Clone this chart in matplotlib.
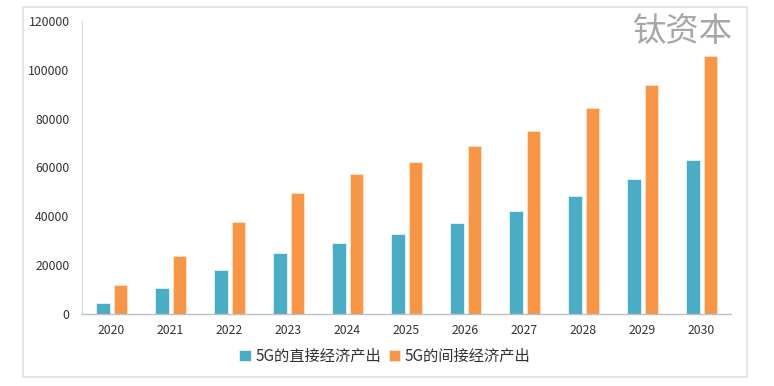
import matplotlib
matplotlib.use("Agg")
import matplotlib.pyplot as plt
import numpy as np
from matplotlib.patches import Rectangle

plt.rcParams['font.family'] = ['Noto Sans CJK SC', 'DejaVu Sans']

years = ['2020', '2021', '2022', '2023', '2024', '2025', '2026', '2027', '2028', '2029', '2030']
direct = [4700, 10500, 18200, 24800, 29000, 32700, 37100, 42000, 48400, 55100, 62900]
indirect = [11800, 23800, 37800, 49700, 57300, 62300, 68700, 75000, 84200, 93900, 105800]
labels = ['5G的直接经济产出', '5G的间接经济产出']

fig = plt.figure(figsize=(7.74, 3.86), dpi=100)
ax = fig.add_axes([82/774, 1-314/386, (731-82)/774, (314-21)/386])

x = np.arange(len(years))
w = 0.23
ax.bar(x - 0.14, direct, w, color='#4BACC6', edgecolor='#E6F3F7', linewidth=0.6, label=labels[0])
ax.bar(x + 0.15, indirect, w, color='#F79646', edgecolor='#FDE3CF', linewidth=0.6, label=labels[1])

ax.set_xlim(-0.5, len(years) - 0.5)
ax.set_ylim(0, 120000)
ax.set_yticks(np.arange(0, 120001, 20000))
ax.set_yticklabels([str(v) for v in range(0, 120001, 20000)])
ax.set_xticks(x)
ax.set_xticklabels(years)
ax.tick_params(axis='both', length=0, colors='#333333', labelsize=8.8)
ax.tick_params(axis='y', pad=9)
ax.tick_params(axis='x', pad=7)
for s in ['top', 'right']:
    ax.spines[s].set_visible(False)
ax.spines['left'].set_color('#D9D9D9')
ax.spines['bottom'].set_color('#BFBFBF')
ax.spines['bottom'].set_linewidth(1.0)

leg = fig.legend(loc='center', bbox_to_anchor=(385/774, 1-356/386), ncol=2, frameon=False,
                 fontsize=11, handlelength=0.75, handleheight=0.75, handletextpad=0.3,
                 columnspacing=0.5, labelcolor='#333333')

fig.text(733/774, 1-31/386, '钛资本', ha='right', va='center', fontsize=24, color='#A6A6A6')

border = Rectangle((23/774, 1-377/386), (747-23)/774, (377-7)/386, transform=fig.transFigure,
                   fill=False, edgecolor='#E0E0E0', linewidth=1.2)
fig.add_artist(border)

fig.savefig('out.png', dpi=100)
